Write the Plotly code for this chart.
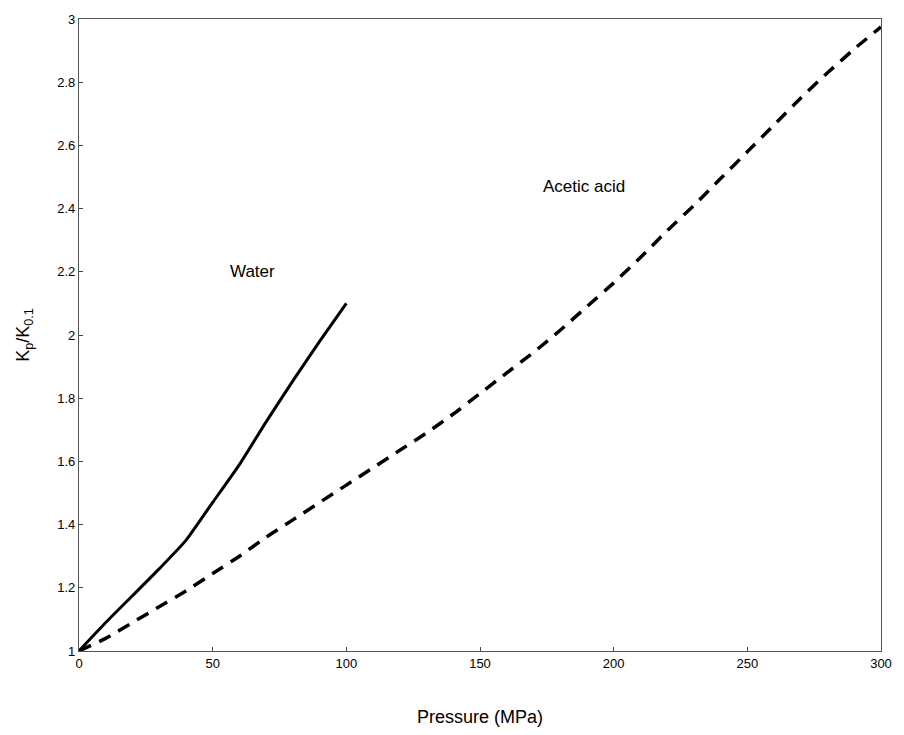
import plotly.graph_objects as go

# Pressure (MPa) and relative rate constant K_p / K_0.1
water_p = [0, 10, 20, 30, 40, 50, 60, 70, 80, 90, 100]
water_k = [1.0, 1.09, 1.175, 1.26, 1.35, 1.47, 1.59, 1.725, 1.855, 1.98, 2.1]

acetic_p = [0, 10, 20, 30, 40, 50, 60, 70, 80, 90, 100, 110, 120, 130, 140, 150,
            160, 170, 180, 190, 200, 210, 220, 230, 240, 250, 260, 270, 280, 290, 300]
acetic_k = [1.0, 1.04, 1.09, 1.14, 1.19, 1.245, 1.30, 1.36, 1.415, 1.47, 1.525,
            1.58, 1.635, 1.69, 1.75, 1.815, 1.88, 1.945, 2.015, 2.09, 2.165,
            2.245, 2.33, 2.41, 2.495, 2.58, 2.665, 2.75, 2.83, 2.905, 2.975]

labels = [("Water", 65, 2.2), ("Acetic acid", 189, 2.47)]

x_ticks = [0, 50, 100, 150, 200, 250, 300]
y_ticks = [1, 1.2, 1.4, 1.6, 1.8, 2, 2.2, 2.4, 2.6, 2.8, 3]

font = "Liberation Sans, Arial, sans-serif"

fig = go.Figure()
fig.add_trace(go.Scatter(x=water_p, y=water_k, mode="lines", name="Water",
                         line=dict(color="black", width=3, shape="spline", smoothing=0.5)))
fig.add_trace(go.Scatter(x=acetic_p, y=acetic_k, mode="lines", name="Acetic acid",
                         line=dict(color="black", width=3.5, dash="13px,9px",
                                   shape="spline", smoothing=0.6)))

for text, x, y in labels:
    fig.add_annotation(x=x, y=y, text=text, showarrow=False,
                       font=dict(family=font, size=17, color="black"))

axis_common = dict(
    showgrid=False, zeroline=False, showline=True, mirror=True,
    linecolor="#555555", linewidth=1.2,
    ticks="inside", ticklen=4, tickcolor="#444444",
    tickfont=dict(family=font, size=13, color="black"),
)

fig.update_xaxes(range=[0, 300], tickvals=x_ticks,
                 title=dict(text="Pressure (MPa)", standoff=40,
                            font=dict(family=font, size=18, color="black")),
                 **axis_common)
fig.update_yaxes(range=[1, 3], tickvals=y_ticks,
                 title=dict(text="K<sub>p</sub>/K<sub>0.1</sub>", standoff=22,
                            font=dict(family=font, size=18, color="black")),
                 **axis_common)

fig.update_layout(
    width=904, height=735,
    margin=dict(l=79, r=16, t=18, b=83),
    paper_bgcolor="white", plot_bgcolor="white",
    showlegend=False,
)

fig.write_html("out.html")
